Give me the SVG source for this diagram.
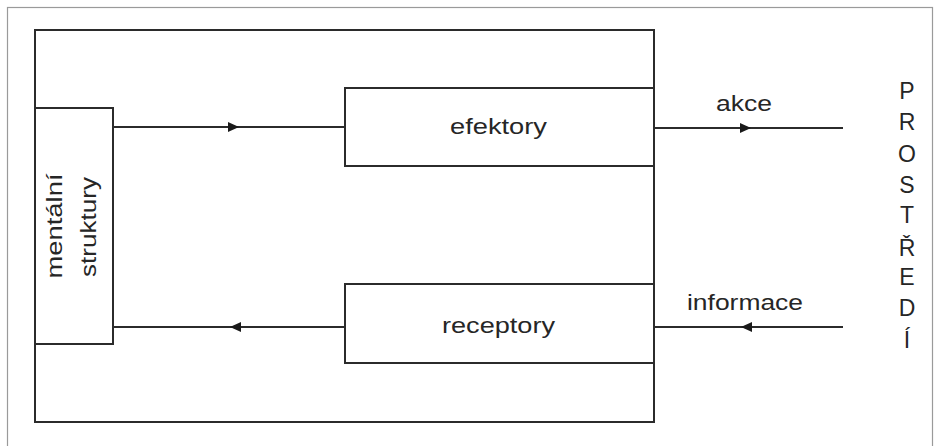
<svg xmlns="http://www.w3.org/2000/svg" width="939" height="446" viewBox="0 0 939 446">
  <style>
    .frame { fill: none; stroke: #9a9a9a; stroke-width: 1.2; }
    .box { fill: none; stroke: #2b2b2b; stroke-width: 2; }
    .conn { fill: none; stroke: #2b2b2b; stroke-width: 2; }
    .lbl { font-family: "Liberation Sans", Arial, sans-serif; font-size: 22px; fill: #262626; }
    .env { font-family: "Liberation Sans", Arial, sans-serif; font-size: 23px; fill: #262626; text-anchor: middle; }
  </style>
  <defs>
    <marker id="arr" viewBox="0 0 11 10" refX="11" refY="5" markerWidth="11" markerHeight="10" markerUnits="userSpaceOnUse" orient="auto">
      <path d="M0,0 L11,5 L0,10 z" fill="#1a1a1a"/>
    </marker>
  </defs>
  <rect width="939" height="446" fill="#ffffff"/>
  <rect class="frame" x="7.5" y="7.5" width="925" height="450"/>

  <g id="system">
    <rect class="box" x="35" y="30" width="619" height="392"/>
  </g>

  <g id="mentalni-struktury">
    <rect class="box" x="35" y="108" width="78" height="236"/>
    <text class="lbl" transform="translate(62,226) rotate(-90)" text-anchor="middle" textLength="105" lengthAdjust="spacingAndGlyphs">mentální</text>
    <text class="lbl" transform="translate(96,227) rotate(-90)" text-anchor="middle" textLength="100" lengthAdjust="spacingAndGlyphs">struktury</text>
  </g>

  <g id="efektory">
    <rect class="box" x="345" y="88" width="309" height="78"/>
    <text class="lbl" x="450" y="134" textLength="97" lengthAdjust="spacingAndGlyphs">efektory</text>
  </g>

  <g id="receptory">
    <rect class="box" x="345" y="284" width="309" height="79"/>
    <text class="lbl" x="442" y="333" textLength="113" lengthAdjust="spacingAndGlyphs">receptory</text>
  </g>

  <g id="prostredi">
    <text class="env" x="907" y="99">P</text>
    <text class="env" x="907" y="130">R</text>
    <text class="env" x="907" y="162">O</text>
    <text class="env" x="907" y="193">S</text>
    <text class="env" x="907" y="223">T</text>
    <text class="env" x="907" y="256">Ř</text>
    <text class="env" x="907" y="285">E</text>
    <text class="env" x="907" y="316">D</text>
    <text class="env" x="907" y="348">Í</text>
  </g>

  <g id="connectors">
    <path class="conn" d="M113,127 L239,127 L345,127" marker-mid="url(#arr)"/>
    <path class="conn" d="M345,327 L230,327 L113,327" marker-mid="url(#arr)"/>
    <path class="conn" d="M654,128 L751,128 L843,128" marker-mid="url(#arr)"/>
    <path class="conn" d="M843,327 L741,327 L654,327" marker-mid="url(#arr)"/>
    <text class="lbl" x="716" y="111" textLength="56" lengthAdjust="spacingAndGlyphs">akce</text>
    <text class="lbl" x="687" y="310" textLength="116" lengthAdjust="spacingAndGlyphs">informace</text>
  </g>
</svg>
